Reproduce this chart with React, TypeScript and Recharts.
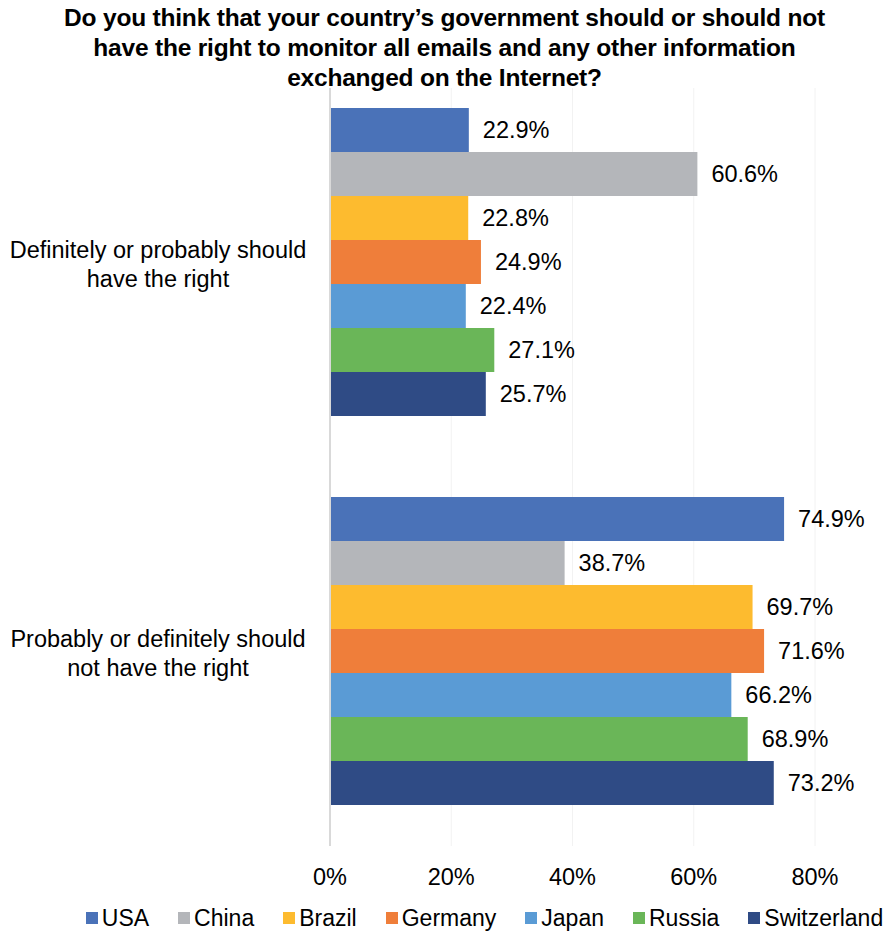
import { BarChart, Bar, XAxis, YAxis, CartesianGrid, LabelList } from 'recharts';

const categories = ['Definitely or probably should have the right', 'Probably or definitely should not have the right'];
const categoryLines = [
  ['Definitely or probably should', 'have the right'],
  ['Probably or definitely should', 'not have the right'],
];
const countries = ['USA', 'China', 'Brazil', 'Germany', 'Japan', 'Russia', 'Switzerland'];
const colors = ['#4a72b8', '#b4b6ba', '#fdbb2f', '#ef7e3a', '#5a9bd5', '#6ab658', '#2f4b85'];
const usa = [22.9, 74.9];
const china = [60.6, 38.7];
const brazil = [22.8, 69.7];
const germany = [24.9, 71.6];
const japan = [22.4, 66.2];
const russia = [27.1, 68.9];
const switzerland = [25.7, 73.2];
const xTicks = [0, 20, 40, 60, 80];

const seriesValues = [usa, china, brazil, germany, japan, russia, switzerland];
const data = categories.map((name, i) => {
  const row: Record<string, string | number> = { name };
  countries.forEach((c, j) => {
    row[c] = seriesValues[j][i];
  });
  return row;
});

const FONT = '"Liberation Sans", Arial, sans-serif';

function CategoryTick({ y, payload }: any) {
  const idx = categories.indexOf(payload.value);
  const lines = categoryLines[idx] || [payload.value];
  return (
    <text x={158} y={y} textAnchor="middle" fontFamily={FONT} fontSize={23.5} fill="#000">
      {lines.map((l, i) => (
        <tspan key={i} x={158} dy={i === 0 ? -5 : 29}>
          {l}
        </tspan>
      ))}
    </text>
  );
}

// legend sits under the axis, outside recharts layout so the plot keeps its height
function ChartLegend() {
  return (
    <div
      style={{
        position: 'absolute',
        left: 0,
        top: 903,
        width: 889,
        display: 'flex',
        justifyContent: 'center',
        gap: 29,
        fontFamily: FONT,
        fontSize: 23,
        lineHeight: '30px',
        color: '#000',
        paddingLeft: 80,
        boxSizing: 'border-box',
      }}
    >
      {countries.map((c, i) => (
        <div key={c} style={{ display: 'flex', alignItems: 'center', gap: 4 }}>
          <span style={{ width: 12, height: 12, background: colors[i], display: 'inline-block' }} />
          <span>{c}</span>
        </div>
      ))}
    </div>
  );
}

export default function App() {
  return (
    <div style={{ position: 'absolute', left: 0, top: 0, width: 889, height: 932, background: '#fff' }}>
      <div
        style={{
          position: 'absolute',
          left: 0,
          top: 3,
          width: 889,
          height: 85,
          textAlign: 'center',
          fontFamily: FONT,
          fontWeight: 'bold',
          fontSize: 24.5,
          lineHeight: '30px',
          color: '#000',
          background: '#fff',
          zIndex: 2,
          letterSpacing: -0.2,
        }}
      >
        Do you think that your country’s government should or should not
        <br />
        have the right to monitor all emails and any other information
        <br />
        exchanged on the Internet?
      </div>
      <BarChart
        width={889}
        height={932}
        data={data}
        layout="vertical"
        margin={{ top: 68, right: 74, bottom: 0, left: 0 }}
        barCategoryGap="10.3%"
        barGap={0}
      >
        <CartesianGrid horizontal={false} stroke="#f2f2f2" />
        <XAxis
          type="number"
          domain={[0, 80]}
          ticks={xTicks}
          tickFormatter={(v: number) => `${v}%`}
          axisLine={false}
          tickLine={false}
          tickMargin={16}
          height={86}
          tick={{ fontFamily: FONT, fontSize: 23.5, fill: '#000' }}
          allowDataOverflow
        />
        <YAxis
          type="category"
          dataKey="name"
          width={330}
          axisLine={{ stroke: '#d9d9d9', strokeWidth: 2 }}
          tickLine={false}
          tick={<CategoryTick />}
        />
        {countries.map((c, i) => (
          <Bar key={c} dataKey={c} fill={colors[i]} isAnimationActive={false}>
            <LabelList
              dataKey={c}
              position="right"
              offset={14}
              formatter={(v: any) => `${Number(v).toFixed(1)}%`}
              style={{ fontFamily: FONT, fontSize: 23.5, fill: '#000' }}
            />
          </Bar>
        ))}
      </BarChart>
      <ChartLegend />
    </div>
  );
}
